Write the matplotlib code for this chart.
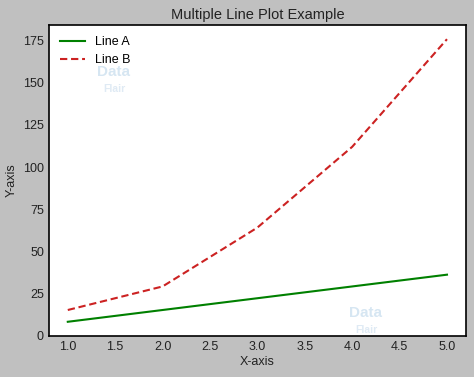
import numpy as np
import matplotlib.pyplot as plt

plt.rcParams['font.family'] = ['Liberation Sans', 'DejaVu Sans']

# data
x = [1, 2, 3, 4, 5]
line_a = [8, 15, 22, 29, 36]
line_b = [15, 29, 64, 112, 176]

fig = plt.figure(figsize=(4.74, 3.77), dpi=100, facecolor='#c0c0c0')
ax = fig.add_axes([0.103, 0.109, 0.880, 0.825])
ax.set_facecolor('white')

ax.plot(x, line_a, color='green', linewidth=1.5, label='Line A')
ax.plot(x, line_b, color='#cc2222', linestyle=(0, (3.5, 1.8)), linewidth=1.5, label='Line B')

ax.set_xticks([1.0, 1.5, 2.0, 2.5, 3.0, 3.5, 4.0, 4.5, 5.0])
ax.set_yticks([0, 25, 50, 75, 100, 125, 150, 175])
ax.set_ylim(-0.4, 184.5)
ax.tick_params(length=0, labelsize=9, colors='#222222')
for s in ax.spines.values():
    s.set_color('black')
    s.set_linewidth(1.2)

ax.set_title('Multiple Line Plot Example', fontsize=10.5, color='#222222', pad=4)
ax.set_xlabel('X-axis', fontsize=9, color='#222222', labelpad=2)
ax.set_ylabel('Y-axis', fontsize=9, color='#222222')
ax.legend(loc='upper left', frameon=False, fontsize=9)

# faint watermark
for wx, wy in [(0.115, 0.835), (0.72, 0.06)]:
    ax.text(wx, wy, 'Data', transform=ax.transAxes, fontsize=11, color='#d6e6f2', fontweight='bold')
    ax.text(wx + 0.015, wy - 0.05, 'Flair', transform=ax.transAxes, fontsize=7.5, color='#dfeaf4', fontweight='bold')

plt.savefig('out.png', dpi=100, facecolor=fig.get_facecolor())
